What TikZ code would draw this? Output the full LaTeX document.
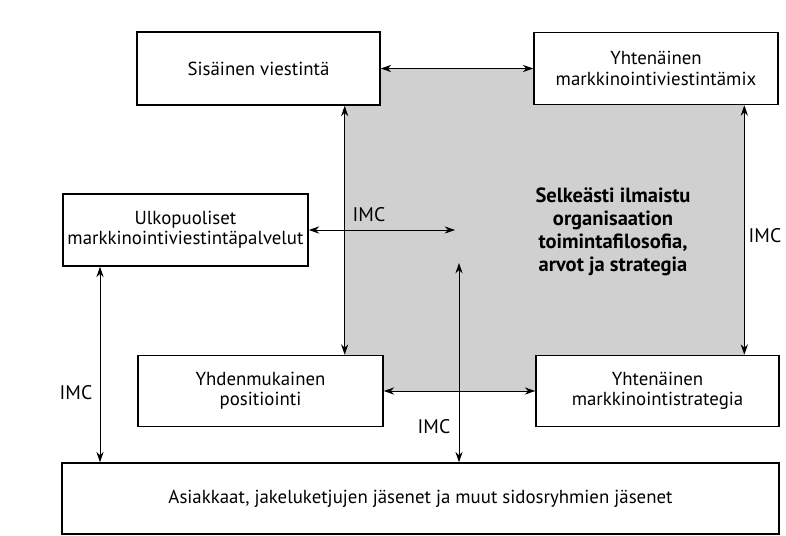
\documentclass[tikz,border=0pt]{standalone}
\usepackage{fontspec}
\setmainfont{PT Sans}
\usepackage{tikz}
\usetikzlibrary{arrows.meta,calc,positioning}
\definecolor{coregray}{RGB}{208,208,208}
\tikzset{
  box/.style={rectangle,draw=black,line width=1.1pt,fill=white,align=center,
    inner sep=2pt,font=\fontsize{13.4}{14.4}\selectfont},
  core/.style={rectangle,fill=coregray,draw=none,inner sep=0pt},
  corelab/.style={align=center,font=\fontsize{14.6}{16.4}\selectfont\bfseries},
  imc/.style={font=\fontsize{14}{15}\selectfont,inner sep=1pt},
  dbl/.style={<->,line width=0.7pt}
}
\begin{document}
\begin{tikzpicture}[x=0.025cm,y=-0.025cm,>={Stealth[length=2.6mm,width=1.8mm]}]
  \useasboundingbox (0,0) rectangle (786,535);
  % shaded core behind the boxes
  \node[core,minimum width=9.975cm,minimum height=8.075cm] (core) at (544.5,229.5) {};
  \node[corelab] (values) at (613,232) {Selkeästi ilmaistu\\ organisaation\\ toimintafilosofia,\\ arvot ja strategia};
  % boxes
  \node[box,minimum width=6.075cm,minimum height=1.825cm] (sis) at (258.5,68.5) {Sisäinen viestintä};
  \node[box,minimum width=6.1cm,minimum height=1.8cm] (mix) at (656,68.5) {Yhtenäinen\\ markkinointiviestintämix};
  \node[box,minimum width=6.125cm,minimum height=1.8cm] (ulko) at (185.5,230) {Ulkopuoliset\\ markkinointiviestintäpalvelut};
  \node[box,minimum width=6.125cm,minimum height=1.775cm] (pos) at (260.5,391) {Yhdenmukainen\\ positiointi};
  \node[box,minimum width=6.075cm,minimum height=1.775cm] (strat) at (657.5,391) {Yhtenäinen\\ markkinointistrategia};
  \node[box,minimum width=17.925cm,minimum height=1.775cm] (asi) at (420.5,498.5) {Asiakkaat, jakeluketjujen jäsenet ja muut sidosryhmien jäsenet};
  % free ends
  \coordinate (midend) at (455,230);
  \coordinate (midstart) at (459,263);
  \coordinate (lx) at (100,300);
  % connectors
  \draw[dbl] (sis.east) -- (mix.west);
  \draw[dbl] (sis.south -| core.west) -- (pos.north -| core.west);
  \draw[dbl] (mix.south -| core.east) -- (strat.north -| core.east);
  \draw[dbl] (pos.east) -- (strat.west);
  \draw[dbl] (ulko.east) -- (midend);
  \draw[dbl] (midstart) -- (midstart |- asi.north);
  \draw[dbl] (lx |- ulko.south) -- (lx |- asi.north);
  % IMC labels
  \node[imc] (imctop) at (369,215) {IMC};
  \node[imc] (imcright) at (765,236) {IMC};
  \node[imc] (imcmid) at (434,427) {IMC};
  \node[imc] (imcleft) at (76,393) {IMC};
\end{tikzpicture}
\end{document}
